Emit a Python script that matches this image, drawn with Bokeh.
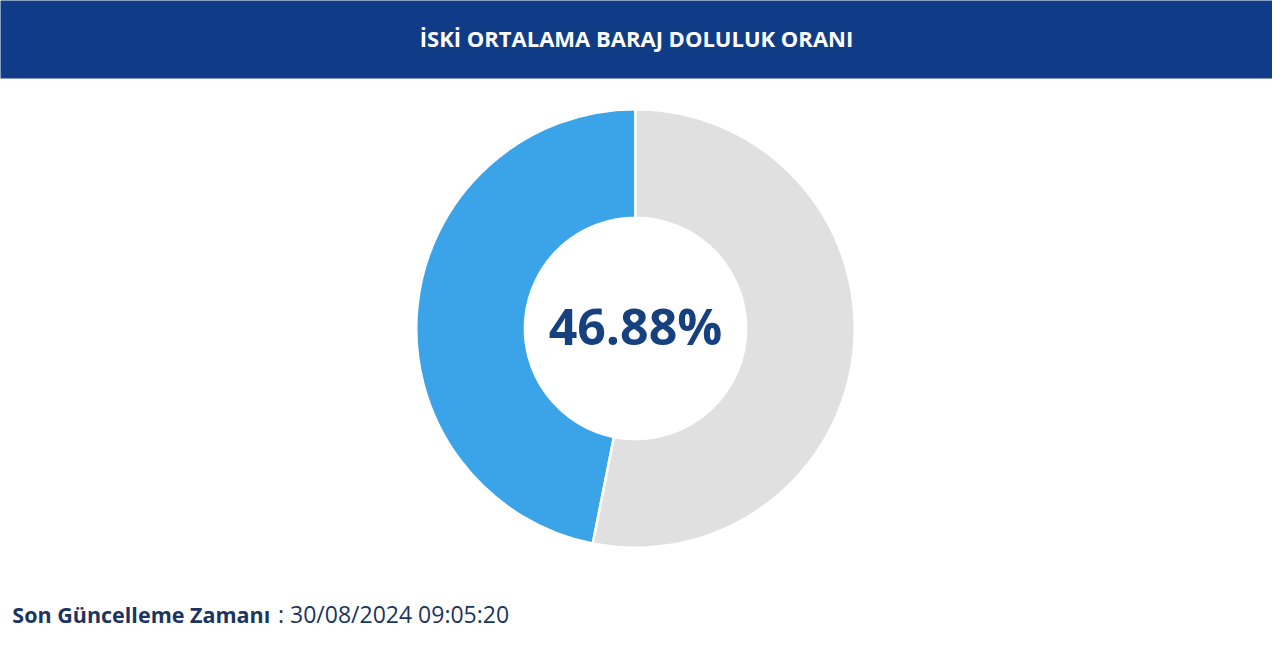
import numpy as np
from bokeh.plotting import figure
from bokeh.models import Range1d
from bokeh.core.properties import value
from bokeh.embed import file_html
from bokeh.resources import INLINE

title_text = "İSKİ ORTALAMA BARAJ DOLULUK ORANI"
labels = ["Dolu", "Boş"]
values = [46.88, 53.12]
colors = ["#3ba3e8", "#e0e0e0"]
center_label = "46.88%"
footer_bold = "Son Güncelleme Zamanı"
footer_normal = ": 30/08/2024 09:05:20"

# reference-pixel coordinate frame
RW, RH = 1288, 667
p = figure(width=1272, height=651, x_range=Range1d(0, RW), y_range=Range1d(0, RH),
           output_backend="svg", toolbar_location=None, min_border=0)
p.axis.visible = False
p.grid.visible = False
p.outline_line_color = None
p.background_fill_color = "white"
p.border_fill_color = "white"

FONT = value("Open Sans")

# header band
p.quad(left=[-5], right=[RW + 5], bottom=[RH - 80], top=[RH + 10], fill_color="#103c87", line_color=None)
p.text(x=[644], y=[RH - 38], text=[title_text], text_color="white",
       text_font=FONT, text_font_style="bold", text_font_size="22px",
       text_align="center", text_baseline="middle")

# donut
fr = np.array(values) / sum(values)
cum = np.concatenate([[0], np.cumsum(fr)])
start = np.pi / 2 + cum[:-1] * 2 * np.pi
end = np.pi / 2 + cum[1:] * 2 * np.pi
p.annular_wedge(x=643, y=RH - 336, inner_radius=112, outer_radius=222,
                start_angle=start, end_angle=end, fill_color=colors,
                line_color="white", line_width=2.5)

p.text(x=[643], y=[RH - 334], text=[center_label], text_color="#17407f",
       text_font=FONT, text_font_style="bold", text_font_size="50px",
       text_align="center", text_baseline="middle")

# footer
p.text(x=[12], y=[RH - 629], text=[footer_bold], text_color="#1c355e",
       text_font=FONT, text_font_style="bold", text_font_size="21.5px",
       text_align="left", text_baseline="middle")
p.text(x=[281], y=[RH - 629], text=[footer_normal], text_color="#1c355e",
       text_font=FONT, text_font_size="23px",
       text_align="left", text_baseline="middle")

open("out.html", "w").write(file_html(p, INLINE))
